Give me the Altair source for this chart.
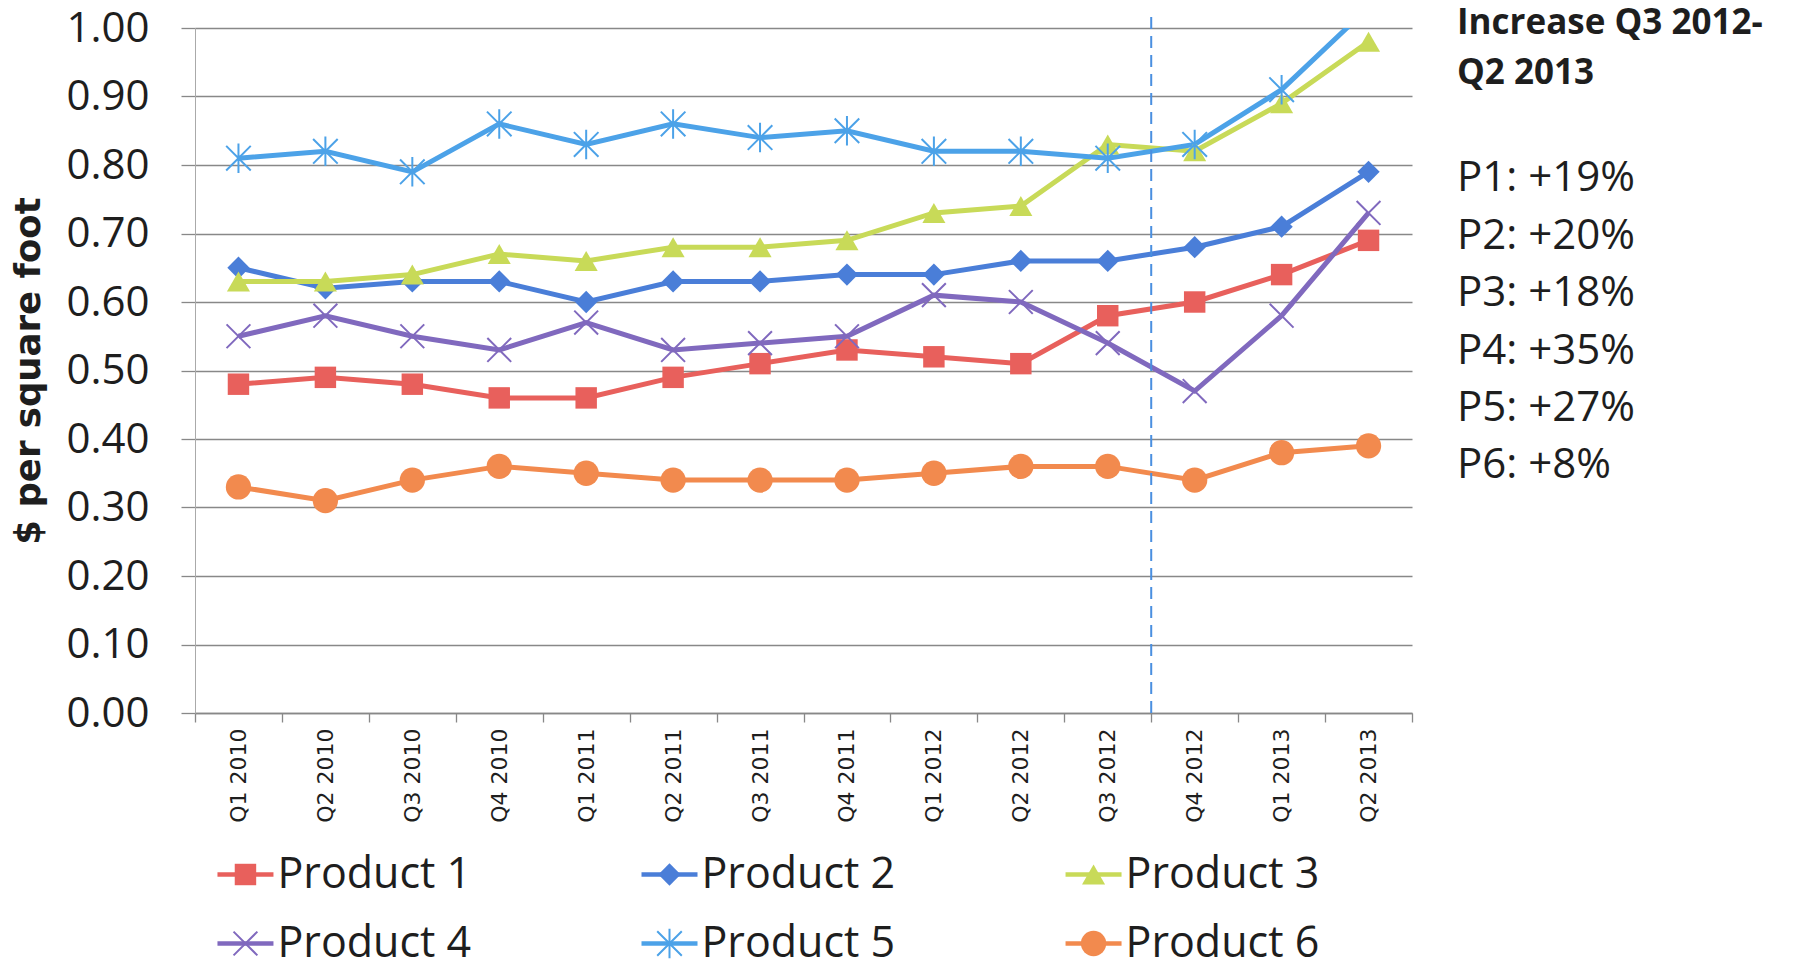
import altair as alt
import pandas as pd

quarters = ["Q1 2010", "Q2 2010", "Q3 2010", "Q4 2010",
            "Q1 2011", "Q2 2011", "Q3 2011", "Q4 2011",
            "Q1 2012", "Q2 2012", "Q3 2012", "Q4 2012",
            "Q1 2013", "Q2 2013"]
products = ["Product 1", "Product 2", "Product 3", "Product 4", "Product 5", "Product 6"]

product_1 = [0.48, 0.49, 0.48, 0.46, 0.46, 0.49, 0.51, 0.53, 0.52, 0.51, 0.58, 0.60, 0.64, 0.69]
product_2 = [0.65, 0.62, 0.63, 0.63, 0.60, 0.63, 0.63, 0.64, 0.64, 0.66, 0.66, 0.68, 0.71, 0.79]
product_3 = [0.63, 0.63, 0.64, 0.67, 0.66, 0.68, 0.68, 0.69, 0.73, 0.74, 0.83, 0.82, 0.89, 0.98]
product_4 = [0.55, 0.58, 0.55, 0.53, 0.57, 0.53, 0.54, 0.55, 0.61, 0.60, 0.54, 0.47, 0.58, 0.73]
product_5 = [0.81, 0.82, 0.79, 0.86, 0.83, 0.86, 0.84, 0.85, 0.82, 0.82, 0.81, 0.83, 0.91, 1.03]
product_6 = [0.33, 0.31, 0.34, 0.36, 0.35, 0.34, 0.34, 0.34, 0.35, 0.36, 0.36, 0.34, 0.38, 0.39]
series = [product_1, product_2, product_3, product_4, product_5, product_6]

y_ticks = [0.0, 0.1, 0.2, 0.3, 0.4, 0.5, 0.6, 0.7, 0.8, 0.9, 1.0]
split_quarter = ["Q4 2012"]

annotation_head = ["Increase Q3 2012-", "Q2 2013"]
annotation_body = ["P1: +19%", "P2: +20%", "P3: +18%", "P4: +35%", "P5: +27%", "P6: +8%"]

# styles
colors = ["#E8605C", "#4A7ED8", "#C8DA58", "#8069BE", "#4CA2E8", "#F28A4E"]
X_PATH = "M-1,-1L1,1M1,-1L-1,1"
STAR_PATH = "M-1,-1L1,1M1,-1L-1,1M0,-1.2L0,1.2"
shapes = ["square", "diamond", "triangle-up", X_PATH, STAR_PATH, "circle"]
sizes = [460, 640, 580, 460, 500, 470]
filled_products = ["Product 1", "Product 2", "Product 3", "Product 6"]
stroked_products = ["Product 4", "Product 5"]

rows = []
for p, vals in zip(products, series):
    for q, v in zip(quarters, vals):
        rows.append({"quarter": q, "product": p, "value": v})
df = pd.DataFrame(rows)

W, H = 1217, 685
GRID = "#888888"
TXT = "#1e1e1e"

color_scale = alt.Scale(domain=products, range=colors)
shape_scale = alt.Scale(domain=products, range=shapes)
size_scale = alt.Scale(domain=products, range=sizes)

x_enc = alt.X("quarter:N", sort=quarters,
              scale=alt.Scale(domain=quarters, paddingInner=0, paddingOuter=0),
              axis=alt.Axis(title=None, labelAngle=-90, labelFont="DejaVu Sans",
                            labelFontSize=22, labelColor=TXT, labelPadding=6,
                            tickBand="extent", tickSize=9, tickColor=GRID,
                            tickWidth=1.3, domainColor=GRID, domainWidth=1.3,
                            grid=False))
y_enc = alt.Y("value:Q",
              scale=alt.Scale(domain=[0, 1], nice=False, zero=True),
              axis=alt.Axis(values=y_ticks, format=".2f", grid=True,
                            gridColor=GRID, gridWidth=1.3, tickSize=14,
                            tickColor=GRID, tickWidth=1.3, domainColor="#aaaaaa",
                            domainWidth=1, labelFont="Open Sans", labelFontSize=42,
                            labelColor=TXT, labelPadding=32,
                            title="$ per square foot", titleFont="DejaVu Sans",
                            titleFontWeight="bold", titleFontSize=35.5,
                            titleColor=TXT, titlePadding=19))

base = alt.Chart(df)

lines = base.mark_line(strokeWidth=5, clip=True).encode(
    x=x_enc, y=y_enc,
    color=alt.Color("product:N", scale=color_scale, legend=None),
)

pts_filled = base.transform_filter(
    alt.FieldOneOfPredicate(field="product", oneOf=filled_products)
).mark_point(filled=True, opacity=1, clip=True).encode(
    x=x_enc, y=y_enc,
    color=alt.Color("product:N", scale=color_scale, legend=None),
    shape=alt.Shape("product:N", scale=shape_scale, legend=None),
    size=alt.Size("product:N", scale=size_scale, legend=None),
)

pts_stroked = base.transform_filter(
    alt.FieldOneOfPredicate(field="product", oneOf=stroked_products)
).mark_point(filled=False, opacity=1, strokeWidth=2, clip=True).encode(
    x=x_enc, y=y_enc,
    color=alt.Color("product:N", scale=color_scale, legend=None),
    shape=alt.Shape("product:N", scale=shape_scale, legend=None),
    size=alt.Size("product:N", scale=size_scale, legend=None),
)

split = alt.Chart(pd.DataFrame({"quarter": split_quarter})).mark_rule(
    color="#4A8FE0", strokeWidth=2, strokeDash=[12, 7]
).encode(
    x=alt.X("quarter:N", sort=quarters, bandPosition=0),
    y=alt.datum(0),
    y2=alt.datum(1.02),
)

one = pd.DataFrame({"k": [0]})
head = alt.Chart(one).mark_text(
    text=annotation_head, align="left", baseline="alphabetic",
    font="Open Sans", fontSize=35, fontWeight="bold", color=TXT, lineHeight=50
).encode(x=alt.value(W + 45), y=alt.value(5.6))

body = alt.Chart(one).mark_text(
    text=annotation_body, align="left", baseline="alphabetic",
    font="Open Sans", fontSize=42, color=TXT, lineHeight=57.4
).encode(x=alt.value(W + 45), y=alt.value(163.4))

main = alt.layer(lines, pts_filled, pts_stroked, split, head, body).properties(
    width=W, height=H
)

# legend panel
LW, LH = W, 138
leg_base = alt.Chart(pd.DataFrame({"product": products})).transform_window(
    idx="row_number()"
).transform_calculate(
    col="(datum.idx - 1) % 3", row="floor((datum.idx - 1) / 3)"
)
lx = alt.X("col:Q", scale=alt.Scale(domain=[-0.119, 2.751], nice=False, zero=False), axis=None)
ly = alt.Y("row:O", scale=alt.Scale(paddingInner=0, paddingOuter=0), axis=None)

leg_line = leg_base.mark_point(shape="M-1,0L1,0", size=3136, strokeWidth=4.5,
                               filled=False, opacity=1).encode(
    x=lx, y=ly, color=alt.Color("product:N", scale=color_scale, legend=None))
leg_filled = leg_base.transform_filter(
    alt.FieldOneOfPredicate(field="product", oneOf=filled_products)
).mark_point(filled=True, opacity=1).encode(
    x=lx, y=ly,
    color=alt.Color("product:N", scale=color_scale, legend=None),
    shape=alt.Shape("product:N", scale=shape_scale, legend=None),
    size=alt.Size("product:N", scale=size_scale, legend=None))
leg_stroked = leg_base.transform_filter(
    alt.FieldOneOfPredicate(field="product", oneOf=stroked_products)
).mark_point(filled=False, opacity=1, strokeWidth=2).encode(
    x=lx, y=ly,
    color=alt.Color("product:N", scale=color_scale, legend=None),
    shape=alt.Shape("product:N", scale=shape_scale, legend=None),
    size=alt.Size("product:N", scale=size_scale, legend=None))
leg_text = leg_base.mark_text(align="left", baseline="middle", dx=32,
                              font="Open Sans", fontSize=43, color=TXT).encode(
    x=lx, y=ly, text="product:N")

legend = alt.layer(leg_line, leg_filled, leg_stroked, leg_text).properties(
    width=LW, height=LH)

chart = alt.vconcat(main, legend, spacing=17).configure_view(stroke=None).properties(
    padding={"left": 3, "top": -3, "right": 5, "bottom": 5}
)

chart.save("out.html", embed_options={"renderer": "svg", "actions": False})
